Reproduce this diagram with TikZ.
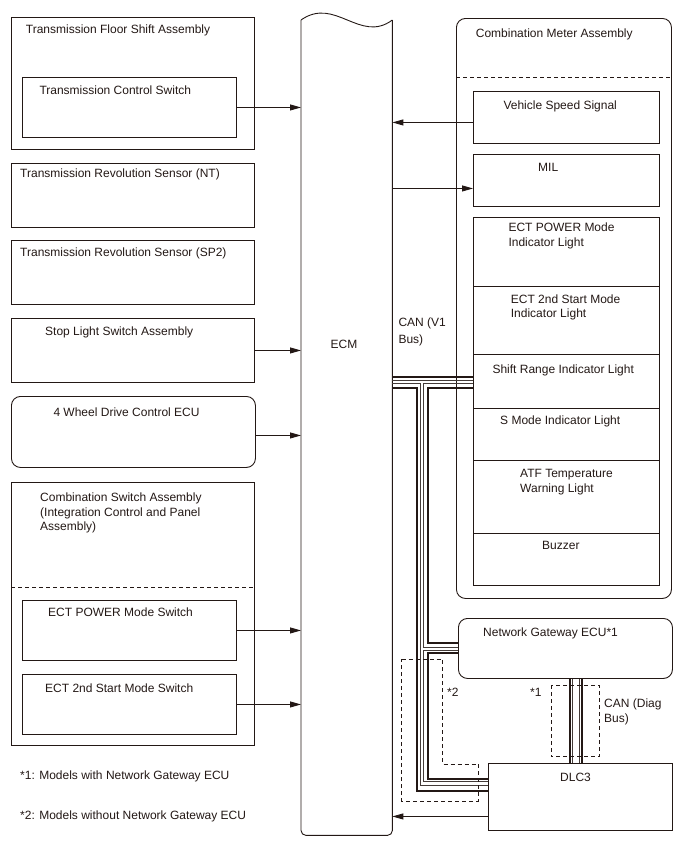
\documentclass[tikz,border=0pt]{standalone}
\usepackage{fontspec}
\setmainfont{Liberation Sans}
\usetikzlibrary{arrows.meta}

\definecolor{ink}{RGB}{35,24,21}

\begin{document}
\begin{tikzpicture}[x=1pt,y=-1pt,
  box/.style={draw=ink,line width=0.9pt,inner sep=0pt,anchor=north west},
  rbox/.style={box,rounded corners=9pt},
  txt/.style={inner sep=0pt,anchor=base west,align=left,text=ink,
    font=\fontsize{12}{14.5}\selectfont},
  sig/.style={draw=ink,line width=0.9pt,-{Triangle[length=11pt,width=6pt]}},
  hi/.style={draw=ink,line width=2pt},
  lo/.style={draw=ink!85,line width=0.7pt},
  part/.style={draw=ink,line width=0.9pt,dash pattern=on 4pt off 3pt}
]
  \useasboundingbox (0,0) rectangle (688,852);

  % left column
  \node[box,minimum width=243,minimum height=132] (floorshift) at (11,17) {};
  \node[txt] (floorshift-t) at (25.7,33.3) {Transmission Floor Shift Assembly};
  \node[box,minimum width=214,minimum height=60] (ctrlsw) at (22,77) {};
  \node[txt] (ctrlsw-t) at (39.3,94) {Transmission Control Switch};
  \node[box,minimum width=243,minimum height=64] (nt) at (11,163) {};
  \node[txt] (nt-t) at (20,177.5) {Transmission Revolution Sensor (NT)};
  \node[box,minimum width=243,minimum height=64] (sp2) at (11,240) {};
  \node[txt] (sp2-t) at (20,256.5) {Transmission Revolution Sensor (SP2)};
  \node[box,minimum width=243,minimum height=64] (stoplight) at (11,318) {};
  \node[txt] (stoplight-t) at (45,335.5) {Stop Light Switch Assembly};
  \node[rbox,minimum width=244,minimum height=71] (fourwd) at (11,396) {};
  \node[txt] (fourwd-t) at (53.3,416) {4 Wheel Drive Control ECU};
  \node[box,minimum width=243,minimum height=263] (combsw) at (11,482) {};
  % base of a multi-line node is its last line
  \node[txt] (combsw-t) at (40,530.7) {Combination Switch Assembly\\(Integration Control and Panel\\Assembly)};
  \draw[part] (combsw.west |- 0,587) -- (combsw.east |- 0,587);
  \node[box,minimum width=214,minimum height=60] (powersw) at (22,600) {};
  \node[txt] (powersw-t) at (48,616.5) {ECT POWER Mode Switch};
  \node[box,minimum width=214,minimum height=60] (secondsw) at (22,674) {};
  \node[txt] (secondsw-t) at (45,692.5) {ECT 2nd Start Mode Switch};
  \node[txt] (note1) at (20,779) {*1: Models with Network Gateway ECU};
  \node[txt] (note2) at (20,819) {*2: Models without Network Gateway ECU};

  % ECM
  \node[inner sep=0pt,minimum width=91,minimum height=815,anchor=north west] (ecm) at (301,20) {};
  \draw[draw=ink,line width=0.9pt,rounded corners=5pt]
    (ecm.north west) -- (ecm.south west) -- (ecm.south east) -- (ecm.north east);
  \draw[draw=ink,line width=0.9pt] (ecm.north west) .. controls (335,-4) and (360,44) .. (ecm.north east);
  \node[txt,anchor=base] (ecm-t) at (344,348.5) {ECM};

  % combination meter
  \node[rbox,minimum width=215,minimum height=580] (meter) at (456,18) {};
  \node[txt] (meter-t) at (475.7,37.3) {Combination Meter Assembly};
  \draw[part] (meter.west |- 0,77) -- (meter.east |- 0,77);
  \node[box,minimum width=186,minimum height=52] (speed) at (473,91) {};
  \node[txt] (speed-t) at (503.3,109.3) {Vehicle Speed Signal};
  \node[box,minimum width=186,minimum height=52] (mil) at (473,154) {};
  \node[txt] (mil-t) at (538,171.5) {MIL};
  \node[box,minimum width=186,minimum height=68.5] (powerind) at (473,217) {};
  \node[txt] (powerind-t) at (508.3,246.2) {ECT POWER Mode\\Indicator Light};
  \node[box,minimum width=186,minimum height=68.8] (secondind) at (473,285.5) {};
  \node[txt] (secondind-t) at (510.7,317.8) {ECT 2nd Start Mode\\Indicator Light};
  \node[box,minimum width=186,minimum height=53.7] (shiftrng) at (473,354.3) {};
  \node[txt] (shiftrng-t) at (492.3,373.3) {Shift Range Indicator Light};
  \node[box,minimum width=186,minimum height=52] (smode) at (473,408) {};
  \node[txt] (smode-t) at (500,424.5) {S Mode Indicator Light};
  \node[box,minimum width=186,minimum height=73] (atf) at (473,460) {};
  \node[txt] (atf-t) at (520,492) {ATF Temperature\\Warning Light};
  \node[box,minimum width=186,minimum height=52] (buzzer) at (473,533) {};
  \node[txt] (buzzer-t) at (542,549.5) {Buzzer};

  % gateway and DLC3
  \node[rbox,minimum width=214,minimum height=60] (gateway) at (458,618) {};
  \node[txt] (gateway-t) at (483,636.7) {Network Gateway ECU*1};
  \node[box,minimum width=184,minimum height=67] (dlc3) at (488,763) {};
  \node[txt] (dlc3-t) at (560,781) {DLC3};

  % bus labels
  \node[txt] (canv1) at (398.3,343.2) {CAN (V1\\[2pt]Bus)};
  \node[txt] (candiag) at (604,722.2) {CAN (Diag\\Bus)};
  \node[txt] (mark1) at (530,696) {*1};
  \node[txt] (mark2) at (447,696) {*2};

  % signal arrows
  \draw[sig] (ctrlsw.east) -- (ctrlsw.east -| ecm.west);
  \draw[sig] (stoplight.east) -- (stoplight.east -| ecm.west);
  \coordinate (fourwd-out) at ([yshift=-3.5pt]fourwd.east);
  \draw[sig] (fourwd-out) -- (fourwd-out -| ecm.west);
  \draw[sig] (powersw.east) -- (powersw.east -| ecm.west);
  \draw[sig] (secondsw.east) -- (secondsw.east -| ecm.west);
  \coordinate (speed-out) at ([yshift=-5pt]speed.west);
  \draw[sig] (speed-out) -- (speed-out -| ecm.east);
  \coordinate (mil-in) at ([yshift=-8pt]mil.west);
  \draw[sig] (mil-in -| ecm.east) -- (mil-in);
  \coordinate (dlc3-out) at ([yshift=-19.5pt]dlc3.west);
  \draw[sig] (dlc3-out) -- (dlc3-out -| ecm.east);

  % CAN V1 bus
  \draw[hi] (ecm.east |- 0,377.3) -- (shiftrng.west |- 0,377.3);
  \draw[lo] (ecm.east |- 0,380.7) -- (shiftrng.west |- 0,380.7);
  \draw[lo] (ecm.east |- 0,383.3) -| (420.8,785) -- (dlc3.west |- 0,785);
  \draw[hi] (ecm.east |- 0,388.3) -| (417,790.7) -- (dlc3.west |- 0,790.7);
  \draw[lo] (shiftrng.west |- 0,383.3) -| (423.2,647.7) -- (gateway.west |- 0,647.7);
  \draw[hi] (shiftrng.west |- 0,388.3) -| (427.7,642.7) -- (gateway.west |- 0,642.7);
  \draw[lo] (gateway.west |- 0,650.3) -| (423.2,781.7) -- (dlc3.west |- 0,781.7);
  \draw[hi] (gateway.west |- 0,653.3) -| (427.7,779) -- (dlc3.west |- 0,779);

  % CAN diag bus
  \draw[hi] (gateway.south -| 569.5,0) -- (dlc3.north -| 569.5,0);
  \draw[lo] (gateway.south -| 572,0) -- (dlc3.north -| 572,0);
  \draw[lo] (gateway.south -| 579,0) -- (dlc3.north -| 579,0);
  \draw[hi] (gateway.south -| 581.5,0) -- (dlc3.north -| 581.5,0);

  % variant frames
  \draw[part] (401.7,659) -- (442.3,659) -- (442.3,764) -- (478.3,764) -- (478.3,801) -- (401.7,801) -- cycle;
  \draw[part] (551,685) rectangle (599.3,756.7);
\end{tikzpicture}
\end{document}
